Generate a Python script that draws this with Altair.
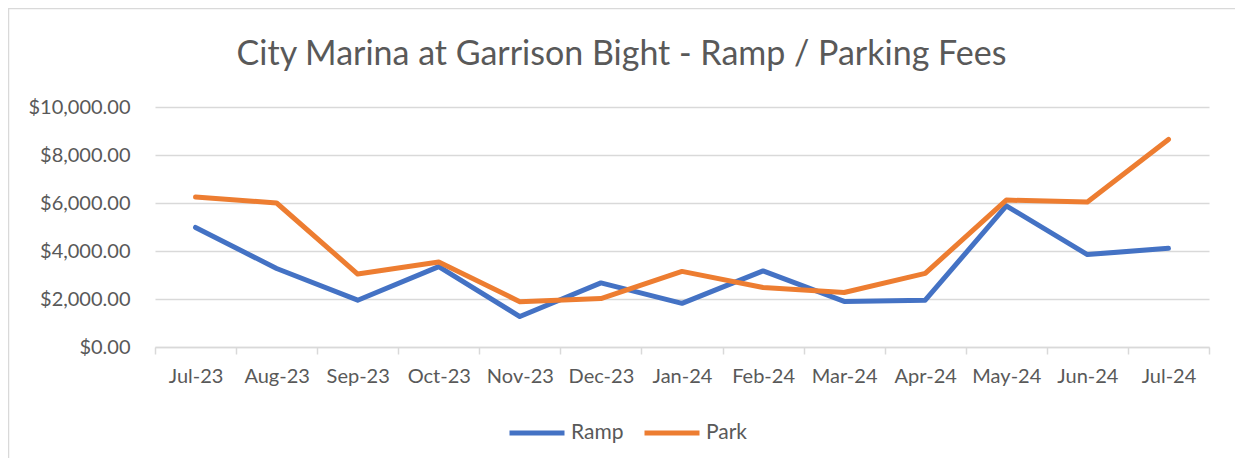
import altair as alt
import pandas as pd

months = ["Jul-23", "Aug-23", "Sep-23", "Oct-23", "Nov-23", "Dec-23", "Jan-24",
          "Feb-24", "Mar-24", "Apr-24", "May-24", "Jun-24", "Jul-24"]
ramp = [4980, 3270, 1950, 3350, 1270, 2670, 1820, 3170, 1900, 1950, 5880, 3850, 4110]
park = [6250, 6000, 3040, 3540, 1890, 2020, 3150, 2480, 2270, 3070, 6120, 6040, 8650]
series = ["Ramp", "Park"]
colors = ["#4472C4", "#ED7D31"]
y_ticks = [0, 2000, 4000, 6000, 8000, 10000]
title_text = "City Marina at Garrison Bight - Ramp / Parking Fees"

rows = []
for name, vals in zip(series, [ramp, park]):
    for m, v in zip(months, vals):
        rows.append({"Month": m, "Series": name, "Value": v})
df = pd.DataFrame(rows)

FONT = "Lato"
GREY = "#595959"

lines = alt.Chart(df).mark_line(strokeWidth=5, strokeCap="round", strokeJoin="round").encode(
    x=alt.X("Month:N", sort=months, bandPosition=0.5,
            scale=alt.Scale(type="band", paddingInner=0, paddingOuter=0),
            axis=alt.Axis(title=None, labelAngle=0, tickBand="extent", grid=False,
                          domainColor="#d9d9d9", domainWidth=1.5, tickColor="#d9d9d9",
                          tickWidth=1.5, tickSize=7, labelPadding=12, labelFontSize=20,
                          labelColor=GREY, labelFont=FONT)),
    y=alt.Y("Value:Q", scale=alt.Scale(domain=[0, 10000], nice=False),
            axis=alt.Axis(title=None, values=y_ticks, format="$,.2f", domain=False, ticks=False,
                          gridColor="#d9d9d9", gridWidth=1.5, labelPadding=25,
                          labelFontSize=20, labelColor=GREY, labelFont=FONT)),
    color=alt.Color("Series:N", scale=alt.Scale(domain=series, range=colors),
                    legend=alt.Legend(title=None, orient="none", direction="horizontal",
                                      legendX=352, legendY=296, symbolType="stroke",
                                      symbolSize=3025, symbolStrokeWidth=5,
                                      labelFontSize=21, labelColor=GREY, labelFont=FONT,
                                      labelOffset=4, columnPadding=10)),
    order=alt.Order("Series:N", sort="descending"),
)

border = alt.Chart(pd.DataFrame({"a": [0]})).mark_rect(
    fill=None, stroke="#d9d9d9", strokeWidth=1.5
).encode(x=alt.value(-146.5), x2=alt.value(1081.5), y=alt.value(-98.5), y2=alt.value(370))

title = alt.Chart(pd.DataFrame({"t": [title_text]})).mark_text(
    font=FONT, fontSize=34, color=GREY, align="center", baseline="alphabetic"
).encode(text="t:N", x=alt.value(466.5), y=alt.value(-42))

chart = alt.layer(border, title, lines).properties(
    width=1054, height=240,
    padding={"left": 147, "top": 99, "right": 26, "bottom": 111},
    autosize=alt.AutoSizeParams(type="none"),
).configure_view(stroke=None)

chart.save("out.html", embed_options={"renderer": "svg", "actions": False})
